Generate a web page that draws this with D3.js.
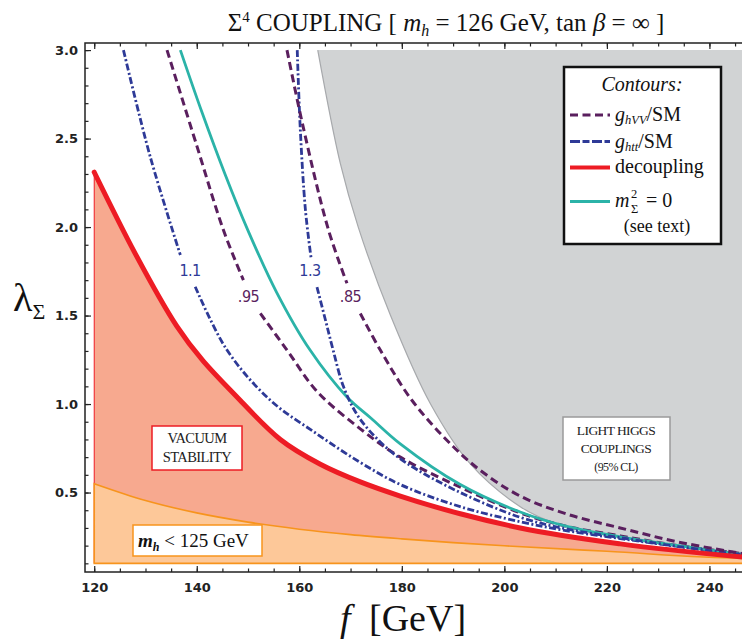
<!DOCTYPE html>
<html><head><meta charset="utf-8">
<script src="https://cdn.jsdelivr.net/npm/d3@7"></script>
<style>body{margin:0;background:#fff}svg{display:block}</style>
</head><body><svg id="c" width="742" height="641"></svg>
<script>
// ---------------- data ----------------
const xTicks = [120, 140, 160, 180, 200, 220, 240];
const yTicks = [0.5, 1.0, 1.5, 2.0, 2.5, 3.0];

// decoupling (red) boundary of vacuum stability
const decouplingF = [120, 128, 136.1, 148.5, 156.3, 164.1, 171.9, 179.7, 191.4, 203.1, 222.6, 246.5];
const decouplingL = [2.31, 1.85, 1.44, 1.02, 0.80, 0.66, 0.56, 0.48, 0.38, 0.30, 0.21, 0.135];

// m_h < 125 GeV boundary (orange)
const massF = [120, 130, 140, 150, 160, 170, 180, 190, 200, 220, 246.5];
const massL = [0.55, 0.455, 0.385, 0.333, 0.293, 0.262, 0.238, 0.217, 0.199, 0.168, 0.13];
const lambdaMin = 0.1;
const lambdaMax = 3.0;

// g_hVV/SM = .95 (null = gap for label)
const hvv95F = [134.2, 140, 145.2, 149.1, null, 152.4, 157.6, 163.5, 171.9, 179.7, 191.4, 203.1, 212, 222.6, 234, 246.5];
const hvv95L = [3.0, 2.46, 1.983, 1.70, null, 1.512, 1.305, 1.07, 0.86, 0.70, 0.53, 0.385, 0.31, 0.255, 0.2, 0.155];
// g_hVV/SM = .85
const hvv85F = [157.6, 160.8, 165.7, 169.3, null, 171.9, 175.8, 182, 190, 196, 203.1, 212, 222.6, 234, 246.5];
const hvv85L = [3.0, 2.56, 1.983, 1.682, null, 1.512, 1.305, 1.02, 0.76, 0.61, 0.48, 0.38, 0.30, 0.22, 0.155];
// g_htt/SM = 1.1
const htt11F = [125.7, 130.9, 136.8, null, 139.7, 145.9, 154.3, 163.5, 171.9, 179.7, 191.4, 203.1, 212, 222.6, 234, 246.5];
const htt11L = [3.0, 2.40, 1.842, null, 1.663, 1.305, 1.023, 0.83, 0.67, 0.545, 0.42, 0.335, 0.285, 0.24, 0.195, 0.15];
// g_htt/SM = 1.3
const htt13F = [159.6, 160.2, 161.2, 162.3, null, 163.45, 165.1, 166.6, 168.6, 171.5, 176, 181, 191.4, 203.1, 212, 222.6, 234, 246.5];
const htt13L = [3.0, 2.55, 2.096, 1.825, null, 1.661, 1.475, 1.305, 1.10, 0.93, 0.78, 0.665, 0.50, 0.36, 0.295, 0.245, 0.195, 0.148];
// m_Sigma^2 = 0 (teal)
const mSigmaF = [136.8, 141, 145.5, 150, 155.6, 162.1, 169.3, 174, 179.7, 191.4, 203.1, 212, 222.6, 234, 246.5];
const mSigmaL = [3.0, 2.65, 2.30, 1.98, 1.63, 1.305, 1.04, 0.92, 0.775, 0.545, 0.39, 0.31, 0.25, 0.2, 0.15];
// light Higgs couplings excluded region boundary (gray)
const lightHiggsF = [163.6, 168, 171.5, 177.8, 185.6, 193.4, 203.1, 209.6, 220, 233, 246.5];
const lightHiggsL = [3.0, 2.36, 2.0, 1.5, 1.0, 0.66, 0.42, 0.33, 0.26, 0.2, 0.15];

const contourLabels = [
  {text: "1.1", f: 138.7, l: 1.757, kind: "htt"},
  {text: "1.3", f: 162.1, l: 1.757, kind: "htt"},
  {text: ".95", f: 150.1, l: 1.606, kind: "hvv"},
  {text: ".85", f: 170.0, l: 1.606, kind: "hvv"}
];

// ---------------- styles ----------------
const C = {
  red: "#ed1c24", salmon: "#f7a98f", orangeFill: "#fdc899", orange: "#f7941d",
  gray: "#d1d3d4", grayLine: "#a7a9ac", teal: "#2bb3a8", purple: "#5a1f5e", blue: "#2e3a97"
};
const serif = "Liberation Serif";
const sans = "DejaVu Sans";

const svg = d3.select("#c");
const x = d3.scaleLinear().domain([118.2, 246.55]).range([85, 743]);
const y = d3.scaleLinear().domain([0.051, 3.04]).range([572, 43]);

svg.append("defs").append("clipPath").attr("id", "clip")
  .append("rect").attr("x", 85).attr("y", 43).attr("width", 658).attr("height", 529);
const plot = svg.append("g").attr("clip-path", "url(#clip)");

const zip = (F, L) => F.map((f, i) => f === null ? null : [f, L[i]]);
const line = d3.line().defined(d => d !== null).x(d => x(d[0])).y(d => y(d[1])).curve(d3.curveCatmullRom.alpha(0.5));
const fLine = d3.line().x(d => x(d[0])).y(d => y(d[1])).curve(d3.curveMonotoneX);

// gray region
const grayPts = zip(lightHiggsF, lightHiggsL);
const fMax = x.domain()[1] + 1;
let grayPath = line(grayPts);
grayPath += `L${x(fMax)},${y(lightHiggsL[lightHiggsL.length-1])}L${x(fMax)},${y(lambdaMax)}Z`;
plot.append("path").attr("d", grayPath).attr("fill", C.gray);
plot.append("path").attr("d", line(grayPts)).attr("fill", "none").attr("stroke", C.grayLine).attr("stroke-width", 1.2);

// salmon region (vacuum stability)
const dec = zip(decouplingF, decouplingL);
const area = d3.area().x(d => x(d[0])).y0(y(lambdaMin)).y1(d => y(d[1])).curve(d3.curveMonotoneX);
plot.append("path").attr("d", area(dec)).attr("fill", C.salmon)
  .attr("stroke", C.red).attr("stroke-width", 1);
// orange region
const mass = zip(massF, massL);
const massAreaPts = mass.concat([[fMax, massL[massL.length-1]]]);
plot.append("path").attr("d", area(massAreaPts)).attr("fill", C.orangeFill)
  .attr("stroke", C.orange).attr("stroke-width", 1.6);

// contours
function contour(F, L, color, dash, w) {
  plot.append("path").attr("d", line(zip(F, L))).attr("fill", "none")
    .attr("stroke", color).attr("stroke-width", w).attr("stroke-dasharray", dash);
}
const dashHvv = "8,4.5";
const dashHtt = "7,2.5,2,2.5";
contour(htt11F, htt11L, C.blue, dashHtt, 2.8);
contour(hvv95F, hvv95L, C.purple, dashHvv, 3);
contour(mSigmaF, mSigmaL, C.teal, null, 2.8);
contour(htt13F, htt13L, C.blue, dashHtt, 2.8);
contour(hvv85F, hvv85L, C.purple, dashHvv, 3);

// decoupling line
plot.append("path").attr("d", fLine(dec)).attr("fill", "none").attr("stroke", C.red)
  .attr("stroke-width", 5).attr("stroke-linecap", "round");

// contour labels
svg.selectAll("text.cl").data(contourLabels).join("text").attr("class", "cl")
  .attr("x", d => x(d.f)).attr("y", d => y(d.l)).attr("dy", "0.35em")
  .attr("text-anchor", "middle").attr("font-family", "DejaVu Sans Condensed, DejaVu Sans").attr("font-size", 16)
  .attr("letter-spacing", -0.5)
  .attr("fill", d => d.kind === "htt" ? C.blue : C.purple).text(d => d.text);

// ---------------- axes ----------------
const axes = svg.append("g");
function styleAxis(g) {
  g.select(".domain").remove();
  g.selectAll("line").attr("stroke", "#222").attr("stroke-width", 1.2);
  g.selectAll("text").attr("font-family", sans).attr("font-weight", "bold").attr("font-size", 13).attr("fill", "#222");
}
const xMinor = d3.range(120, 246, 5);
const yMinor = d3.range(1, 31).map(v => v / 10);
axes.append("g").attr("transform", "translate(0,572)")
  .call(d3.axisBottom(x).tickValues(xTicks).tickSizeInner(-6).tickSizeOuter(0).tickPadding(11)).call(styleAxis);
axes.append("g").attr("transform", "translate(0,572)")
  .call(d3.axisBottom(x).tickValues(xMinor).tickSizeInner(-3.5).tickSizeOuter(0).tickFormat("")).call(styleAxis);
axes.append("g").attr("transform", "translate(0,43)")
  .call(d3.axisTop(x).tickValues(xTicks).tickSizeInner(-6).tickSizeOuter(0).tickFormat("")).call(styleAxis);
axes.append("g").attr("transform", "translate(0,43)")
  .call(d3.axisTop(x).tickValues(xMinor).tickSizeInner(-3.5).tickSizeOuter(0).tickFormat("")).call(styleAxis);
axes.append("g").attr("transform", "translate(85,0)")
  .call(d3.axisLeft(y).tickValues(yTicks).tickSizeInner(-6).tickSizeOuter(0).tickPadding(7).tickFormat(d3.format(".1f"))).call(styleAxis);
axes.append("g").attr("transform", "translate(85,0)")
  .call(d3.axisLeft(y).tickValues(yMinor).tickSizeInner(-3.5).tickSizeOuter(0).tickFormat("")).call(styleAxis);
svg.append("rect").attr("x", 85).attr("y", 43).attr("width", 658).attr("height", 529)
  .attr("fill", "none").attr("stroke", "#222").attr("stroke-width", 1.5);

// ---------------- titles ----------------
const t = svg.append("text").attr("x", 446).attr("y", 31).attr("text-anchor", "middle")
  .attr("font-family", serif).attr("font-size", 25).attr("fill", "#111");
t.append("tspan").text("Σ");
t.append("tspan").attr("font-size", 15).attr("dy", -9).text("4");
t.append("tspan").attr("dy", 9).text(" COUPLING  [ ");
t.append("tspan").attr("font-style", "italic").text("m");
t.append("tspan").attr("font-style", "italic").attr("font-size", 16).attr("dy", 5).text("h");
t.append("tspan").attr("dy", -5).text(" = 126 GeV, tan ");
t.append("tspan").attr("font-style", "italic").text("β");
t.append("tspan").text(" = ∞ ]");

const xl = svg.append("text").attr("x", 403).attr("y", 631).attr("text-anchor", "middle")
  .attr("font-family", serif).attr("font-size", 38).attr("fill", "#111");
xl.append("tspan").attr("font-style", "italic").text("f");
xl.append("tspan").attr("dx", 9).text(" [GeV]");

const yl = svg.append("text").attr("x", 13).attr("y", 311).attr("font-family", serif).attr("font-size", 40).attr("fill", "#111");
yl.append("tspan").text("λ");
yl.append("tspan").attr("font-size", 22).attr("dy", 8).text("Σ");

// ---------------- annotation boxes ----------------
function box(x0, y0, w, h, stroke, sw) {
  svg.append("rect").attr("x", x0).attr("y", y0).attr("width", w).attr("height", h)
    .attr("fill", "#fff").attr("stroke", stroke).attr("stroke-width", sw);
}
function label(tx, ty, size, txt) {
  svg.append("text").attr("x", tx).attr("y", ty).attr("text-anchor", "middle").attr("font-family", serif)
    .attr("font-size", size).attr("letter-spacing", -0.6).attr("fill", "#222").text(txt);
}
box(152, 426, 90, 44, C.red, 1.5);
label(197, 443, 14.5, "VACUUM");
label(197, 462, 14.5, "STABILITY");

box(133, 525, 129, 31, C.orange, 1.5);
const mt = svg.append("text").attr("x", 138).attr("y", 547).attr("font-family", serif).attr("font-size", 19).attr("fill", "#111");
mt.append("tspan").attr("font-style", "italic").attr("font-weight", "bold").text("m");
mt.append("tspan").attr("font-style", "italic").attr("font-weight", "bold").attr("font-size", 12).attr("dy", 4).text("h");
mt.append("tspan").attr("dy", -4).text(" < 125 GeV");

box(563, 417, 107, 63, "#9a9a9a", 1.5);
label(616, 435, 13.5, "LIGHT HIGGS");
label(616, 453, 13.5, "COUPLINGS");
label(616, 471, 12, "(95% CL)");

// ---------------- legend ----------------
box(564, 67, 157, 177, "#111", 2.5);
svg.append("text").attr("x", 642).attr("y", 91).attr("text-anchor", "middle").attr("font-family", serif)
  .attr("font-size", 20).attr("font-style", "italic").attr("fill", "#111").text("Contours:");
const legendItems = [
  {y: 115, color: C.purple, dash: dashHvv, w: 3},
  {y: 141.5, color: C.blue, dash: "10,2.5,7,2.5", w: 3},
  {y: 167.5, color: C.red, dash: null, w: 4},
  {y: 201.5, color: C.teal, dash: null, w: 3}
];
svg.selectAll("line.lg").data(legendItems).join("line").attr("class", "lg")
  .attr("x1", 570).attr("x2", 610).attr("y1", d => d.y).attr("y2", d => d.y)
  .attr("stroke", d => d.color).attr("stroke-width", d => d.w).attr("stroke-dasharray", d => d.dash);
function gLabel(yb, sub) {
  const g = svg.append("text").attr("x", 615).attr("y", yb).attr("font-family", serif).attr("font-size", 20).attr("fill", "#111");
  g.append("tspan").attr("font-style", "italic").text("g");
  g.append("tspan").attr("font-style", "italic").attr("font-size", 12.5).attr("dy", 3).text(sub);
  g.append("tspan").attr("dy", -3).text("/SM");
}
gLabel(121, "hVV");
gLabel(147.5, "htt");
svg.append("text").attr("x", 615).attr("y", 173).attr("font-family", serif).attr("font-size", 20).attr("fill", "#111").text("decoupling");
svg.append("text").attr("x", 615).attr("y", 207).attr("font-family", serif).attr("font-size", 20).attr("font-style", "italic").attr("fill", "#111").text("m");
svg.append("text").attr("x", 631).attr("y", 198).attr("font-family", serif).attr("font-size", 12.5).attr("fill", "#111").text("2");
svg.append("text").attr("x", 631).attr("y", 213).attr("font-family", serif).attr("font-size", 12.5).attr("fill", "#111").text("Σ");
svg.append("text").attr("x", 646).attr("y", 207).attr("font-family", serif).attr("font-size", 20).attr("fill", "#111").text("= 0");
svg.append("text").attr("x", 657).attr("y", 232).attr("text-anchor", "middle").attr("font-family", serif).attr("font-size", 18).attr("fill", "#111").text("(see text)");
</script></body></html>
